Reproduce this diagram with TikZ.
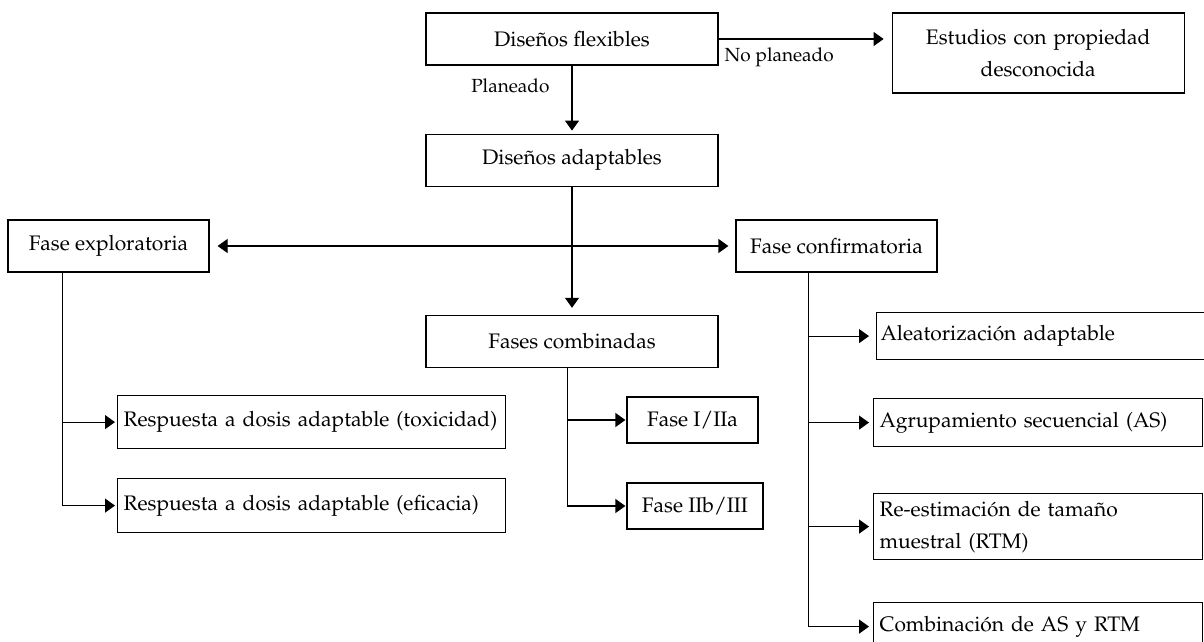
\documentclass[tikz,border=0pt]{standalone}
\usepackage[T1]{fontenc}
\usepackage{mathpazo}
\usetikzlibrary{positioning}
\usetikzlibrary{arrows.meta}
\tikzset{%
	% Specifications for style of nodes:
	base/.style = {rectangle, draw=black, line width=0.6pt,
		inner sep=3pt,
		font=\fontsize{10.5}{16}\selectfont},
	mainbox/.style = {base, minimum width=146pt, minimum height=26pt,
		text centered},
	phasebox/.style = {base, minimum width=100.5pt, minimum height=26pt,
		text centered},
	leafbox/.style = {base, anchor=north west, align=left},
	link/.style = {line width=0.6pt, -{Triangle[length=5pt,width=7pt]},
		shorten >=1pt},
	edgelabel/.style = {font=\fontsize{9.5}{11}\selectfont, inner sep=1pt},
}
\begin{document}
\begin{tikzpicture}[x=0.5pt, y=-0.5pt, node distance=1.5cm]
	\useasboundingbox (0,0) rectangle (1204,642);
	
	\node (flex) [mainbox] at (572,39) {Dise\~nos flexibles};
	\node (unknown) [base, right=86.5pt of flex.north east, anchor=north west,
		text width=140pt, minimum height=40pt, align=center] {Estudios con propiedad\\desconocida};
	\node (adapt) [mainbox, below=34pt of flex] {Dise\~nos adaptables};
	\node (explo) [phasebox] at (108.5,246) {Fase exploratoria};
	\node (confirm) [phasebox] at (836.5,246) {Fase confirmatoria};
	\node (comb) [mainbox, below=64pt of adapt] {Fases combinadas};
	
	% exploratory branch
	\node (tox) [leafbox, text width=188pt, minimum height=26.5pt] at (117,395) {Respuesta a dosis adaptable (toxicidad)};
	\node (eff) [leafbox, text width=188pt, minimum height=27pt] at (117,478) {Respuesta a dosis adaptable (eficacia)};
	
	% combined phases
	\node (phaseA) [base, minimum width=65.5pt, minimum height=23pt] at (692.5,420) {Fase I/IIa};
	\node (phaseB) [base, minimum width=68pt, minimum height=23pt] at (695,506) {Fase IIb/III};
	
	% confirmatory branch
	\node (alea) [leafbox, inner xsep=2pt, text width=170pt, minimum height=23.5pt] at (876,312) {Aleatorizaci\'on adaptable};
	\node (agrup) [leafbox, text width=158.5pt, minimum height=24pt] at (873,398) {Agrupamiento secuencial (AS)};
	\node (reest) [leafbox, text width=158.5pt, minimum height=33pt] at (873,493) {Re-estimaci\'on de tama\~no\\muestral (RTM)};
	\node (combo) [leafbox, text width=158.5pt, minimum height=24pt] at (873,602) {Combinaci\'on de AS y RTM};
	
	\draw [link, shorten >=4pt] (flex.east) -- (flex.east -| unknown.west)
		node [edgelabel, pos=0.02, below right=3pt and 0pt] {No planeado};
	\draw [link, shorten >=1.5pt] (flex) -- (adapt)
		node [edgelabel, pos=0.3, left=10pt] {Planeado};
	\draw [link, shorten >=3.5pt] (adapt) -- (comb);
	\draw [line width=0.6pt, {Triangle[length=5pt,width=7pt]}-{Triangle[length=5pt,width=7pt]},
		shorten <=4pt, shorten >=3.5pt] (explo) -- (confirm);
	
	\coordinate (exploTrunk) at ([xshift=27.5pt]explo.south west);
	\draw [link] (exploTrunk) |- (tox.west);
	\draw [link] (exploTrunk) |- (eff.west);
	
	\coordinate (combTrunk) at ([xshift=71pt]comb.south west);
	\draw [link, shorten >=0.5pt] (combTrunk) |- (phaseA.west);
	\draw [link, shorten >=0.5pt] (combTrunk) |- (phaseB.west);
	
	\coordinate (confTrunk) at ([xshift=36.5pt]confirm.south west);
	\draw [link, shorten >=3.5pt] (confTrunk) |- (alea.west);
	\draw [link, shorten >=2pt] (confTrunk) |- (agrup.west);
	\draw [link, shorten >=2pt] (confTrunk) |- (reest.west);
	\draw [link, shorten >=2pt] (confTrunk) |- (combo.west);
\end{tikzpicture}
\end{document}
